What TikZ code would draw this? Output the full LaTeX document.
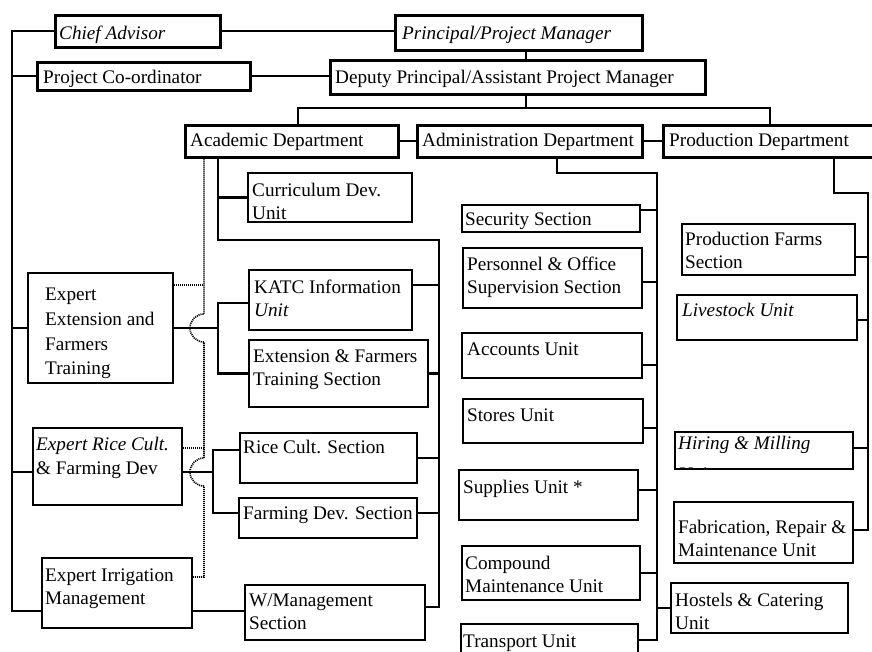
\documentclass[tikz,border=0pt]{standalone}
\usepackage{fontspec}
\setmainfont{Liberation Serif}
\usetikzlibrary{fit}

% text node whose first baseline sits at (x, base)
\newcommand\tx[5][]{\node[txt,#1] (#2) at (#3,#4-16.45) {\strut#5};}

\begin{document}
\begin{tikzpicture}[x=1pt,y=-1pt,
  bigbox/.style={draw, line width=3pt, inner sep=0pt},
  ebox/.style={draw, line width=2pt, inner sep=0pt},
  box/.style={draw, line width=1.5pt, inner sep=0pt},
  conn/.style={line width=2.4pt},
  dotl/.style={line width=1.6pt, dash pattern=on 1.1pt off 0.9pt},
  txt/.style={anchor=north west, inner sep=0pt, align=left,
    font=\fontsize{19.2}{23.5}\selectfont}]

\path[fill=white, use as bounding box] (0,0) rectangle (872,651);

% ---------- management boxes ----------
\node[bigbox, fit={(55,15)(220,47)}]   (chief) {};
\node[bigbox, fit={(37,62)(250,90)}]   (pc)    {};
\node[bigbox, fit={(395,15)(642,50)}]  (prin)  {};
\node[bigbox, fit={(330,60)(705,94)}]  (dep)   {};
\node[bigbox, fit={(185,125)(398,157)}] (acad) {};
\node[bigbox, fit={(417,125)(642,157)}] (adm)  {};
\node[bigbox, fit={(663,125)(885,157)}] (prod) {};

% ---------- academic side ----------
\node[box,  fit={(248,173)(412,222)}] (cur)  {};
\node[ebox, fit={(28,273)(173,383)}]  (ee)   {};
\node[box,  fit={(249,270)(412,330)}] (katc) {};
\node[box,  fit={(249,340)(428,407)}] (ext)  {};
\node[ebox, fit={(33,428)(182,505)}]  (er)   {};
\node[box,  fit={(240,433)(417,483)}] (rice) {};
\node[box,  fit={(239,498)(417,538)}] (farm) {};
\node[ebox, fit={(42,558)(192,628)}]  (ir)   {};
\node[box,  fit={(245,585)(425,640)}] (wm)   {};

% ---------- administration side ----------
\node[box, fit={(462,205)(640,232)}] (sec)  {};
\node[box, fit={(463,248)(642,308)}] (pers) {};
\node[box, fit={(462,333)(642,378)}] (acc)  {};
\node[box, fit={(463,399)(643,443)}] (sto)  {};
\node[box, fit={(459,470)(638,520)}] (sup)  {};
\node[box, fit={(462,546)(640,600)}] (comp) {};
\node[box, fit={(461,624)(638,665)}] (tr)   {};
\node[box, fit={(671,583)(848,633)}] (host) {};

% ---------- production side ----------
\node[box, fit={(682,224)(855,275)}] (pf)  {};
\node[box, fit={(677,295)(857,340)}] (ls)  {};
\node[box, fit={(675,432)(853,469)}] (hm)  {};
\node[box, fit={(674,502)(853,563)}] (fab) {};

% ---------- junctions ----------
\coordinate (trunk) at (12,30);
\coordinate (tbus)  at (526,108);
\coordinate (asub)  at (218,240);
\coordinate (abusA) at (439,240);
\coordinate (sb1)   at (218,328);
\coordinate (sb2)   at (213,472);
\coordinate (dline) at (204,157);
\coordinate (adrop) at (557,173);
\coordinate (abus)  at (657,173);
\coordinate (pdrop) at (834,193);
\coordinate (pbus)  at (868,193);

% connection points on box sides
\path ([yshift=-18pt]ir.west) coordinate (ir-w)
      ([yshift=-18pt]ir.east) coordinate (ir-e)
      ([yshift=16pt]ir.east)  coordinate (ir-d)
      ([yshift=-5.5pt]er.west) coordinate (er-w)
      ([yshift=-5.5pt]er.east) coordinate (er-e)
      ([yshift=18.5pt]er.east) coordinate (er-d)
      ([yshift=43pt]ee.east)  coordinate (ee-d)
      ([yshift=15pt]katc.east) coordinate (katc-e)
      ([yshift=-3pt]katc.west) coordinate (katc-w)
      ([yshift=8pt]rice.west) coordinate (rice-w)
      ([yshift=5pt]farm.west) coordinate (farm-w)
      ([yshift=5pt]farm.east) coordinate (farm-e)
      ([yshift=5.5pt]wm.east) coordinate (wm-e)
      ([yshift=8.5pt]sec.east) coordinate (sec-e)
      ([yshift=-4pt]pers.east) coordinate (pers-e)
      ([yshift=-9.5pt]acc.east) coordinate (acc-e)
      ([yshift=-7pt]sto.east) coordinate (sto-e)
      ([yshift=5pt]sup.east)  coordinate (sup-e)
      ([yshift=4.5pt]tr.east) coordinate (tr-e)
      ([yshift=-7.5pt]pf.east) coordinate (pf-e)
      ([yshift=-2.5pt]ls.east) coordinate (ls-e)
      ([yshift=2.5pt]hm.east) coordinate (hm-e)
      ([yshift=2.5pt]fab.east) coordinate (fab-e);
\coordinate (hop1) at (ee.east -| dline);
\coordinate (hop2) at (er-e -| dline);

% ---------- line of command ----------
\draw[conn] (chief.east) -- (chief.east -| prin.west);
\draw[conn] (pc.east) -- (pc.east -| dep.west);
\draw[conn] (prin.south -| tbus) -- (dep.north -| tbus);
\draw[conn] (dep.south -| tbus) -- (tbus);
\draw[conn] ([xshift=6.5pt]acad.north) |- (tbus) -| ([xshift=-4pt]prod.north);
\draw[conn] (acad.east) -- (adm.west);
\draw[conn] (adm.east) -- (prod.west);

% staff trunk on the left
\draw[conn] (chief.west) -- (chief.west -| trunk) -- (ir-w -| trunk) -- (ir-w);
\draw[conn] (pc.west) -- (pc.west -| trunk);
\draw[conn] (ee.west) -- (ee.west -| trunk);
\draw[conn] (er-w) -- (er-w -| trunk);

% academic department
\draw[conn] (acad.south -| asub) -- (asub) -- (abusA) -- (abusA |- wm-e) -- (wm-e);
\draw[conn] (cur.west) -- (cur.west -| asub);
\draw[conn] (katc-e) -- (katc-e -| abusA);
\draw[conn] (ext.east) -- (ext.east -| abusA);
\draw[conn] (rice.east) -- (rice.east -| abusA);
\draw[conn] (farm-e) -- (farm-e -| abusA);
\draw[conn] (katc-w) -- (katc-w -| sb1) -- (ext.west -| sb1) -- (ext.west);
\draw[conn] (ee.east) -- (sb1);
\draw[conn] (rice-w) -- (rice-w -| sb2) -- (farm-w -| sb2) -- (farm-w);
\draw[conn] (er-e) -- (sb2);
\draw[conn] (ir-e) -- (ir-e -| wm.west);

% advisory (dotted) links, hopping over the solid lines
\draw[dotl] (acad.south -| dline) -- ([yshift=14pt]hop1)
  arc[start angle=90, end angle=270, radius=14pt]
  -- ([yshift=14pt]hop2)
  arc[start angle=90, end angle=270, radius=14pt]
  -- (ir-d -| dline) -- (ir-d);
\draw[dotl] (ee-d) -- (ee-d -| dline);
\draw[dotl] (er-d) -- (er-d -| dline);

% administration department
\draw[conn] (adm.south -| adrop) -- (adrop) -- (abus) -- (abus |- tr-e) -- (tr-e);
\draw[conn] (sec-e) -- (sec-e -| abus);
\draw[conn] (pers-e) -- (pers-e -| abus);
\draw[conn] (acc-e) -- (acc-e -| abus);
\draw[conn] (sto-e) -- (sto-e -| abus);
\draw[conn] (sup-e) -- (sup-e -| abus);
\draw[conn] (comp.east) -- (comp.east -| abus);
\draw[conn] (host.west) -- (host.west -| abus);

% production department
\draw[conn] (prod.south -| pdrop) -- (pdrop) -- (pbus) -- (pbus |- fab-e) -- (fab-e);
\draw[conn] (pf-e) -- (pf-e -| pbus);
\draw[conn] (ls-e) -- (ls-e -| pbus);
\draw[conn] (hm-e) -- (hm-e -| pbus);

% ---------- labels ----------
\tx{chief-t}{59}{39}{\textit{Chief Advisor}}
\tx{pc-t}{43}{83}{Project Co-ordinator}
\tx{prin-t}{402}{39}{\textit{Principal/Project Manager}}
\tx{dep-t}{335}{83}{Deputy Principal/Assistant Project Manager}
\tx{acad-t}{190}{146}{Academic Department}
\tx{adm-t}{422}{146}{Administration Department}
\tx{prod-t}{669}{146}{Production Department}
\tx{cur-t}{252}{196}{Curriculum Dev.\\Unit}
\tx{sec-t}{465}{225}{Security Section}
\tx{pers-t}{467}{270}{Personnel \& Office\\Supervision Section}
\tx{pf-t}{685}{245}{Production Farms\\Section}
\tx{katc-t}{254}{293}{KATC Information\\\textit{Unit}}
\tx{ls-t}{682}{316}{\textit{Livestock Unit}}
\tx{ee-t}{45}{300}{Expert\\[1.5pt]Extension and\\[1.5pt]Farmers\\[1pt]Training}
\tx{ext-t}{253}{362}{Extension \& Farmers\\Training Section}
\tx{acc-t}{467}{355}{Accounts Unit}
\tx{sto-t}{467}{421}{Stores Unit}
\tx{er-t}{36}{450}{\textit{Expert Rice Cult.}\\[1pt]\& Farming Dev}
\tx{rice-t}{243}{453}{Rice Cult. Section}
\begin{scope}
  \clip (hm.north west) rectangle (hm.south east);
  \tx{hm-t}{678}{449}{\textit{Hiring \& Milling}\\[8pt]\textit{Unit}}
\end{scope}
\tx{farm-t}{243}{519}{Farming Dev. Section}
\tx{sup-t}{463}{493}{Supplies Unit *}
\tx{fab-t}{678}{533}{Fabrication, Repair \&\\Maintenance Unit}
\tx{comp-t}{465}{569}{Compound\\Maintenance Unit}
\tx{ir-t}{45}{581}{Expert Irrigation\\Management}
\tx{wm-t}{249}{606}{W/Management\\Section}
\tx{host-t}{675}{606}{Hostels \& Catering\\Unit}
\tx{tr-t}{463}{647}{Transport Unit}

\end{tikzpicture}
\end{document}
